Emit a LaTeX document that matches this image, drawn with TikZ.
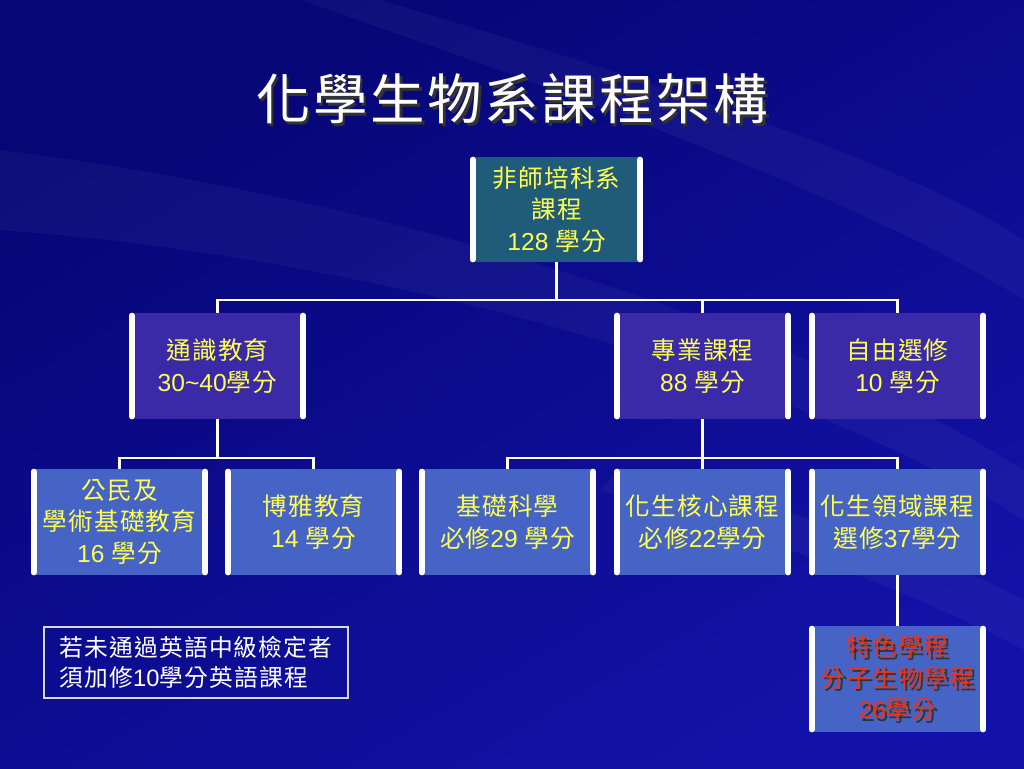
\documentclass[tikz,border=0pt]{standalone}
\usepackage{fontspec}
\setmainfont[LetterSpace=5]{Noto Sans CJK TC}
\newfontfamily\lat{Liberation Sans}
\usetikzlibrary{positioning}

\definecolor{bgdark}{RGB}{6,6,118}
\definecolor{bglight}{RGB}{18,18,168}
\definecolor{rootfill}{RGB}{32,92,122}
\definecolor{midfill}{RGB}{58,42,168}
\definecolor{lowfill}{RGB}{70,100,198}
\definecolor{txtyellow}{RGB}{255,255,80}
\definecolor{txtred}{RGB}{232,52,30}

% text with a dark drop shadow
\newcommand{\shadowed}[2]{\makebox[0pt][l]{\hspace{1.5pt}\raisebox{-1.5pt}{\color{black!80}#2}}{\color{#1}#2}}

\tikzset{
    unit/.style={rectangle, inner sep=0pt, align=center, text=txtyellow,
        font=\fontsize{14}{18}\selectfont,
        minimum width=3.42cm, minimum height=2.12cm},
    rootbox/.style={unit, fill=rootfill, minimum width=3.34cm, minimum height=2.1cm},
    midbox/.style={unit, fill=midfill},
    lowbox/.style={unit, fill=lowfill},
    bar/.style={white, line width=0.12cm, line cap=round},
    link/.style={white, line width=1.3pt},
}

\begin{document}
\begin{tikzpicture}[x=0.02cm, y=-0.02cm]
    \useasboundingbox (0,0) rectangle (1024,768);
    % background
    \shade[top color=bgdark, bottom color=bglight, shading angle=30] (0,0) rectangle (1024,768);
    \fill[white, opacity=0.04] (0,150) .. controls (400,200) and (800,330) .. (1024,470)
        -- (1024,520) .. controls (800,380) and (400,260) .. (0,230) -- cycle;
    \fill[white, opacity=0.04] (380,0) .. controls (650,80) and (900,160) .. (1024,240)
        -- (1024,300) .. controls (880,210) and (620,110) .. (300,0) -- cycle;
    \fill[white, opacity=0.04] (620,470) .. controls (800,510) and (950,560) .. (1024,600)
        -- (1024,650) .. controls (930,600) and (780,540) .. (600,490) -- cycle;

    % title
    \node[font=\fontsize{31}{36}\selectfont] (title) at (512,100) {\shadowed{white}{化學生物系課程架構}};

    % boxes
    \node[rootbox] (root) at (556.5,209.5) {非師培科系\\課程\\{\lat 128} 學分};
    \node[midbox] (tong) at (217.5,366) {通識教育\\{\lat 30\textasciitilde40}學分};
    \node[midbox] (zhuan) at (702.5,366) {專業課程\\{\lat 88} 學分};
    \node[midbox] (ziyou) at (897.5,366) {自由選修\\{\lat 10} 學分};
    \node[lowbox] (gongmin) at (119.5,522) {公民及\\學術基礎教育\\{\lat 16} 學分};
    \node[lowbox] (boya) at (313.5,522) {博雅教育\\{\lat 14} 學分};
    \node[lowbox] (jichu) at (507.5,522) {基礎科學\\必修{\lat 29} 學分};
    \node[lowbox] (hexin) at (702.5,522) {化生核心課程\\必修{\lat 22}學分};
    \node[lowbox] (lingyu) at (897.5,522) {化生領域課程\\選修{\lat 37}學分};
    \node[lowbox] (tese) at (897.5,679) {\shadowed{txtred}{特色學程}\\\shadowed{txtred}{分子生物學程}\\\shadowed{txtred}{{\lat 26}學分}};

    % side bars
    \foreach \n in {root,tong,zhuan,ziyou,gongmin,boya,jichu,hexin,lingyu,tese} {
        \draw[bar] ([shift={(0,3)}]\n.north west) -- ([shift={(0,-3)}]\n.south west);
        \draw[bar] ([shift={(0,3)}]\n.north east) -- ([shift={(0,-3)}]\n.south east);
    }

    % connectors
    \coordinate (j1) at (556.5,300);
    \coordinate (j2) at (217.5,458);
    \coordinate (j3) at (702.5,458);
    \draw[link] (root.south) -- (j1);
    \draw[link] (tong.north) |- (j1) -| (ziyou.north);
    \draw[link] (j1) -| (zhuan.north);
    \draw[link] (tong.south) -- (j2);
    \draw[link] (gongmin.north) |- (j2) -| (boya.north);
    \draw[link] (zhuan.south) -- (j3);
    \draw[link] (jichu.north) |- (j3) -| (lingyu.north);
    \draw[link] (j3) -- (hexin.north);
    \draw[link] (lingyu.south) -- (tese.north);

    % note
    \node[draw=white!85!black, line width=0.8pt, text=white, align=left, inner sep=0pt,
        minimum width=6.08cm, minimum height=1.42cm, font=\fontsize{13.5}{17}\selectfont]
        (note) at (196,662.5) {若未通過英語中級檢定者\\須加修{\lat 10}學分英語課程};
\end{tikzpicture}
\end{document}
